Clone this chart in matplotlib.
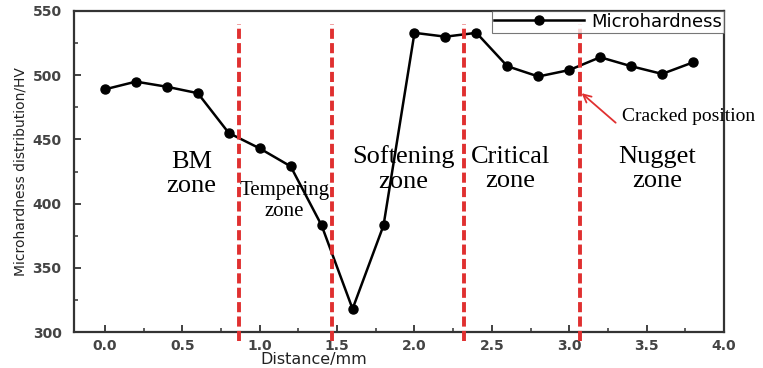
import matplotlib
matplotlib.use("Agg")
import matplotlib.pyplot as plt
from matplotlib.ticker import MultipleLocator, FormatStrFormatter

# data
distance = [0.0, 0.2, 0.4, 0.6, 0.8, 1.0, 1.2, 1.4, 1.6, 1.8,
            2.0, 2.2, 2.4, 2.6, 2.8, 3.0, 3.2, 3.4, 3.6, 3.8]
hardness = [489, 495, 491, 486, 455, 443, 429, 383, 318, 383,
            533, 530, 533, 507, 499, 504, 514, 507, 501, 510]
zone_bounds = [0.865, 1.465, 2.32, 3.07]
zone_names = ["BM\nzone", "Tempering\nzone", "Softening\nzone", "Critical\nzone", "Nugget\nzone"]
zone_x = [0.56, 1.16, 1.93, 2.62, 3.57]
zone_y = [423, 402, 427, 427, 427]

serif = ["Liberation Serif", "DejaVu Serif"]

fig = plt.figure(figsize=(7.63, 3.68), dpi=100)
ax = fig.add_axes([74/763, 1 - 332/368, (724-74)/763, (332-11)/368])

ax.plot(distance, hardness, "k-", marker="o", ms=6.5, lw=1.8, label="Microhardness")

for xb in zone_bounds:
    ax.plot([xb, xb], [293, 540], color="#e03030", lw=2.8, ls=(0, (2.6, 1.1)), clip_on=False, zorder=5)

for name, zx, zy in zip(zone_names, zone_x, zone_y):
    fs = 15 if name.startswith("Tempering") else 19
    ax.text(zx, zy, name, ha="center", va="center", fontsize=fs, family=serif, linespacing=1.13)

# cracked position note
ax.annotate("", xy=(3.08, 486), xytext=(3.30, 463),
            arrowprops=dict(arrowstyle="->", color="#e03030", lw=1.3, shrinkA=0, shrinkB=0,
                            mutation_scale=14))
ax.text(3.34, 468, "Cracked position", fontsize=14, family=serif, va="center", ha="left")

ax.set_xlim(-0.2, 4.0)
ax.set_ylim(300, 550)
ax.xaxis.set_major_locator(MultipleLocator(0.5))
ax.xaxis.set_minor_locator(MultipleLocator(0.25))
ax.yaxis.set_major_locator(MultipleLocator(50))
ax.yaxis.set_minor_locator(MultipleLocator(25))
ax.xaxis.set_major_formatter(FormatStrFormatter("%.1f"))
ax.tick_params(which="both", direction="in", top=False, right=False, colors="#333333")
ax.tick_params(which="major", length=5, width=1.3, labelsize=10, pad=5)
ax.tick_params(axis="y", which="major", pad=9)
ax.tick_params(which="minor", length=3, width=1.1)
for lab in ax.get_xticklabels() + ax.get_yticklabels():
    lab.set_color("#444444")
    lab.set_fontweight("bold")
for sp in ax.spines.values():
    sp.set_linewidth(1.6)
    sp.set_color("#333333")

ax.set_xlabel("Distance/mm", fontsize=11.5, color="#222222")
ax.xaxis.set_label_coords(0.369, -0.062)
ax.set_ylabel("Microhardness distribution/HV", fontsize=10, color="#222222")
ax.yaxis.set_label_coords(-0.072, 0.5)

leg = ax.legend(loc="upper right", bbox_to_anchor=(1.0, 1.0), fontsize=13, frameon=True,
                fancybox=False, borderpad=0.1, handlelength=5.0, handletextpad=0.4,
                borderaxespad=0)
leg.get_frame().set_edgecolor("#555555")
leg.get_frame().set_linewidth(0.8)

fig.savefig("out.png", dpi=100)
